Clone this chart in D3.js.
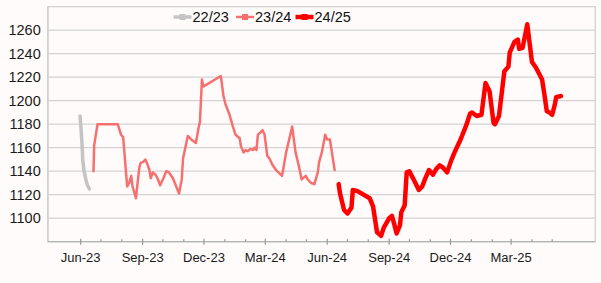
<!DOCTYPE html>
<html>
<head>
<meta charset="utf-8">
<script src="https://cdn.jsdelivr.net/npm/d3@7/dist/d3.min.js"></script>
<style>
  html, body { margin: 0; padding: 0; background: #fffbfa; }
  svg { display: block; font-family: "Liberation Sans", Arial, sans-serif; }
</style>
</head>
<body>
<svg id="chart" width="601" height="283"></svg>
<script>
// ---- data ----
const seriesNames = ["22/23", "23/24", "24/25"];

const dates2223 = ["2023-05-31","2023-06-01","2023-06-03","2023-06-04","2023-06-06","2023-06-09","2023-06-11","2023-06-14"];
const values2223 = [1187,1180,1163,1150,1140,1132,1128,1125];

const dates2324 = ["2023-06-20","2023-06-21","2023-06-26","2023-07-26","2023-07-31","2023-08-03","2023-08-09","2023-08-12","2023-08-15","2023-08-17","2023-08-22","2023-08-27","2023-08-29","2023-09-02","2023-09-05","2023-09-08","2023-09-11","2023-09-13","2023-09-16","2023-09-20","2023-09-23","2023-09-27","2023-10-01","2023-10-06","2023-10-10","2023-10-16","2023-10-18","2023-10-25","2023-10-29","2023-10-31","2023-11-07","2023-11-12","2023-11-19","2023-11-23","2023-11-25","2023-11-28","2023-11-30","2023-12-26","2023-12-30","2024-01-02","2024-01-08","2024-01-13","2024-01-17","2024-01-23","2024-01-25","2024-01-29","2024-02-01","2024-02-04","2024-02-08","2024-02-12","2024-02-14","2024-02-17","2024-02-19","2024-02-23","2024-02-26","2024-02-29","2024-03-04","2024-03-07","2024-03-12","2024-03-17","2024-03-26","2024-04-01","2024-04-10","2024-04-15","2024-04-20","2024-04-24","2024-04-30","2024-05-03","2024-05-08","2024-05-13","2024-05-18","2024-05-20","2024-05-24","2024-05-29","2024-06-01","2024-06-05","2024-06-12"];
const values2324 = [1140,1162,1180,1180,1171,1169,1127,1130,1136,1127,1117,1143,1147,1148,1150,1146,1141,1134,1139,1137,1134,1128,1133,1140,1139,1134,1131,1121,1133,1151,1170,1167,1164,1177,1182,1218,1212,1221,1204,1197,1188,1178,1171,1168,1161,1156,1158,1157,1159,1158,1160,1158,1171,1173,1175,1171,1153,1151,1145,1141,1136,1156,1178,1156,1144,1133,1136,1133,1130,1129,1139,1148,1156,1171,1167,1167,1141];

const dates2425 = ["2024-06-18","2024-06-20","2024-06-26","2024-07-01","2024-07-07","2024-07-09","2024-07-16","2024-08-03","2024-08-08","2024-08-14","2024-08-20","2024-08-24","2024-09-01","2024-09-05","2024-09-08","2024-09-12","2024-09-17","2024-09-19","2024-09-24","2024-09-27","2024-10-01","2024-10-09","2024-10-15","2024-10-20","2024-10-24","2024-10-30","2024-11-05","2024-11-10","2024-11-15","2024-11-20","2024-11-26","2024-12-02","2024-12-07","2024-12-16","2024-12-25","2024-12-30","2025-01-02","2025-01-09","2025-01-16","2025-01-22","2025-01-28","2025-02-03","2025-02-05","2025-02-11","2025-02-19","2025-02-25","2025-02-27","2025-03-06","2025-03-11","2025-03-13","2025-03-18","2025-03-25","2025-04-01","2025-04-07","2025-04-16","2025-04-19","2025-04-21","2025-04-23","2025-04-27","2025-05-01","2025-05-05","2025-05-07","2025-05-14"];
const values2425 = [1129,1121,1107,1104,1109,1124,1123,1117,1110,1088,1085,1092,1100,1102,1096,1087,1094,1105,1111,1139,1140,1131,1124,1127,1133,1141,1137,1142,1145,1143,1139,1149,1156,1167,1180,1189,1190,1187,1188,1215,1208,1181,1180,1187,1225,1229,1241,1250,1252,1244,1245,1265,1233,1228,1218,1207,1199,1191,1190,1188,1197,1203,1204];

const yTicks = [1100,1120,1140,1160,1180,1200,1220,1240,1260];
const xDomain = ["2023-04-13","2025-07-04"];
const xTickStart = "2023-06-01", xTickEnd = "2025-05-01";

// ---- layout ----
const parse = d3.utcParse("%Y-%m-%d");
const L = 47.7, R = 595.3, T = 6.7, B = 241.7;
const svg = d3.select("#chart");

const x = d3.scaleUtc().domain(xDomain.map(parse)).range([L, R]);
const y = d3.scaleLinear().domain([1080, 1280]).range([B, T]);

// plot background/border
svg.append("rect").attr("x", L).attr("y", T).attr("width", R - L).attr("height", B - T)
  .attr("fill", "#fffbfa").attr("stroke", "#cfcfcf").attr("stroke-width", 1.2);

// gridlines
svg.append("g").selectAll("line").data(yTicks).join("line")
  .attr("x1", L).attr("x2", R)
  .attr("y1", d => y(d)).attr("y2", d => y(d))
  .attr("stroke", "#d3d3d3").attr("stroke-width", 1.3);

// y axis labels
const yAxis = d3.axisLeft(y).tickValues(yTicks).tickSize(0).tickPadding(7).tickFormat(d3.format("d"));
const gy = svg.append("g").attr("transform", `translate(${L},0)`).call(yAxis);
gy.select(".domain").attr("stroke", "#cfcfcf");
gy.selectAll("text").attr("font-size", 14.5).attr("fill", "#1a1a1a")
  .attr("font-family", "'Liberation Sans', Arial, sans-serif");

// x axis
const months = d3.utcMonth.range(parse(xTickStart), d3.utcMonth.offset(parse(xTickEnd), 1));
const majors = months.filter(d => d.getUTCMonth() % 3 === 2);
const minors = months.filter(d => d.getUTCMonth() % 3 !== 2);
const gx = svg.append("g");
gx.append("line").attr("x1", L).attr("x2", R).attr("y1", B).attr("y2", B)
  .attr("stroke", "#b5b5b5").attr("stroke-width", 1.3);
gx.selectAll("line.maj").data(majors).join("line").attr("class", "maj")
  .attr("x1", d => x(d)).attr("x2", d => x(d)).attr("y1", B - 3).attr("y2", B + 3)
  .attr("stroke", "#999").attr("stroke-width", 1.2);
gx.selectAll("line.min").data(minors).join("line").attr("class", "min")
  .attr("x1", d => x(d)).attr("x2", d => x(d)).attr("y1", B - 2.5).attr("y2", B)
  .attr("stroke", "#999").attr("stroke-width", 1.2);
const fmt = d3.utcFormat("%b-%y");
gx.selectAll("text").data(majors).join("text")
  .attr("x", d => x(d)).attr("y", 262)
  .attr("text-anchor", "middle").attr("font-size", 13).attr("fill", "#1a1a1a")
  .text(d => fmt(d));

// lines
const series = [
  { name: seriesNames[0], dates: dates2223, values: values2223, color: "#c4c4c4", width: 3.5 },
  { name: seriesNames[1], dates: dates2324, values: values2324, color: "#f67070", width: 2.5 },
  { name: seriesNames[2], dates: dates2425, values: values2425, color: "#ff0000", width: 4.5 }
];
const line = d3.line().x(d => x(d[0])).y(d => y(d[1]));
series.forEach(s => {
  const pts = s.dates.map((d, i) => [parse(d), s.values[i]]);
  svg.append("path").datum(pts).attr("d", line)
    .attr("fill", "none").attr("stroke", s.color).attr("stroke-width", s.width)
    .attr("stroke-linejoin", "round").attr("stroke-linecap", "round");
});

// legend
const legendX = [173.5, 236, 295.5];
const lg = svg.append("g");
series.forEach((s, i) => {
  const g = lg.append("g").attr("transform", `translate(${legendX[i]},17)`);
  g.append("line").attr("x1", 0).attr("x2", 18).attr("y1", 0).attr("y2", 0)
    .attr("stroke", s.color).attr("stroke-width", s.width);
  g.append("rect").attr("x", 6).attr("y", -3).attr("width", 6).attr("height", 6).attr("fill", s.color);
  g.append("text").attr("x", 19).attr("y", 5).attr("font-size", 14.5).attr("fill", "#111").text(s.name);
});
</script>
</body>
</html>
